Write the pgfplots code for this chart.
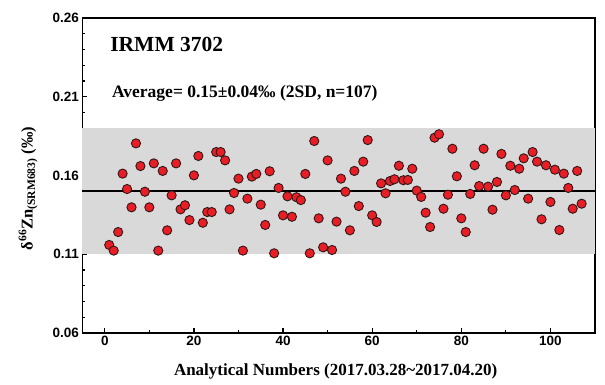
\documentclass[border=0pt]{standalone}
\usepackage{fontspec}
\setmainfont{Liberation Serif}
\setsansfont{Liberation Sans}
\usepackage{pgfplots}
\pgfplotsset{compat=1.18}
\definecolor{ptred}{RGB}{232,30,38}
\definecolor{ptedge}{RGB}{50,22,22}
\definecolor{bandgray}{RGB}{217,217,217}
\begin{document}
\begin{tikzpicture}
\useasboundingbox (-82.5pt,-51pt) rectangle (522.5pt,333pt);
\begin{axis}[
  at={(0,0)}, anchor=south west,
  scale only axis, width=512.5pt, height=315pt,
  xmin=-5, xmax=110, ymin=0.06, ymax=0.26,
  xtick={0,20,...,100}, minor xtick={10,30,...,90},
  ytick={0.06,0.11,0.16,0.21,0.26},
  minor ytick={0.07,0.08,0.09,0.10,0.12,0.13,0.14,0.15,0.17,0.18,0.19,0.20,0.22,0.23,0.24,0.25},
  xtick pos=left, ytick pos=left, tick align=inside,
  major tick length=5pt, minor tick length=3pt,
  every tick/.style={black, line width=1.2pt},
  axis line style={line width=1.6pt},
  yticklabel style={/pgf/number format/.cd, fixed, fixed zerofill, precision=2},
  /pgf/number format/assume math mode=true,
  tick label style={font=\sffamily\bfseries\fontsize{13.5}{15}\selectfont},
  xlabel={Analytical Numbers (2017.03.28\textasciitilde2017.04.20)},
  xlabel style={font=\bfseries\fontsize{17}{19}\selectfont, at={(axis description cs:0.494,-0.121)}, anchor=center},
  ylabel={δ\textsuperscript{66}Zn\textsubscript{(SRM683)} (‰)},
  ylabel style={font=\bfseries\fontsize{16.5}{18}\selectfont, at={(axis description cs:-0.106,0.459)}, anchor=center},
  clip=false,
]
\addplot[draw=none, fill=bandgray] coordinates {(-5,0.11) (110,0.11) (110,0.19) (-5,0.19)} -- cycle;
\addplot[black, line width=1.6pt] coordinates {(-5,0.15) (110,0.15)};
\addplot[only marks, mark=*, mark size=4.6pt, mark options={fill=ptred, draw=ptedge, line width=0.9pt}] coordinates {
(1,0.1159) (2,0.1123) (3,0.1241) (4,0.1612) (5,0.1514) (6,0.1398) (7,0.1804) (8,0.1660) (9,0.1497) (10,0.1398)
(11,0.1677) (12,0.1123) (13,0.1629) (14,0.1252) (15,0.1474) (16,0.1677) (17,0.1385) (18,0.1411) (19,0.1317) (20,0.1601)
(21,0.1724) (22,0.1300) (23,0.1368) (24,0.1368) (25,0.1749) (26,0.1749) (27,0.1696) (28,0.1385) (29,0.1489) (30,0.1580)
(31,0.1123) (32,0.1453) (33,0.1593) (34,0.1610) (35,0.1415) (36,0.1286) (37,0.1627) (38,0.1106) (39,0.1521) (40,0.1347)
(41,0.1468) (42,0.1338) (43,0.1462) (44,0.1444) (45,0.1610) (46,0.1106) (47,0.1819) (48,0.1328) (49,0.1144) (50,0.1696)
(51,0.1127) (52,0.1307) (53,0.1580) (54,0.1497) (55,0.1252) (56,0.1629) (57,0.1406) (58,0.1688) (59,0.1825) (60,0.1347)
(61,0.1305) (62,0.1550) (63,0.1487) (64,0.1565) (65,0.1576) (66,0.1662) (67,0.1570) (68,0.1572) (69,0.1643) (70,0.1504)
(71,0.1464) (72,0.1364) (73,0.1273) (74,0.1840) (75,0.1862) (76,0.1389) (77,0.1478) (78,0.1770) (79,0.1595) (80,0.1328)
(81,0.1241) (82,0.1483) (83,0.1665) (84,0.1533) (85,0.1770) (86,0.1529) (87,0.1383) (88,0.1559) (89,0.1737) (90,0.1474)
(91,0.1662) (92,0.1508) (93,0.1643) (94,0.1709) (95,0.1453) (96,0.1749) (97,0.1688) (98,0.1322) (99,0.1665) (100,0.1432)
(101,0.1637) (102,0.1254) (103,0.1612) (104,0.1521) (105,0.1389) (106,0.1629) (107,0.1421)
};
\node[anchor=base west, font=\bfseries\fontsize{21.5}{24}\selectfont, inner sep=0pt] at (axis cs:1.2,0.2386) {IRMM 3702};
\node[anchor=base west, font=\bfseries\fontsize{17.5}{20}\selectfont, inner sep=0pt] at (axis cs:1.6,0.2098) {Average= 0.15±0.04‰ (2SD, n=107)};
\end{axis}
\end{tikzpicture}
\end{document}
